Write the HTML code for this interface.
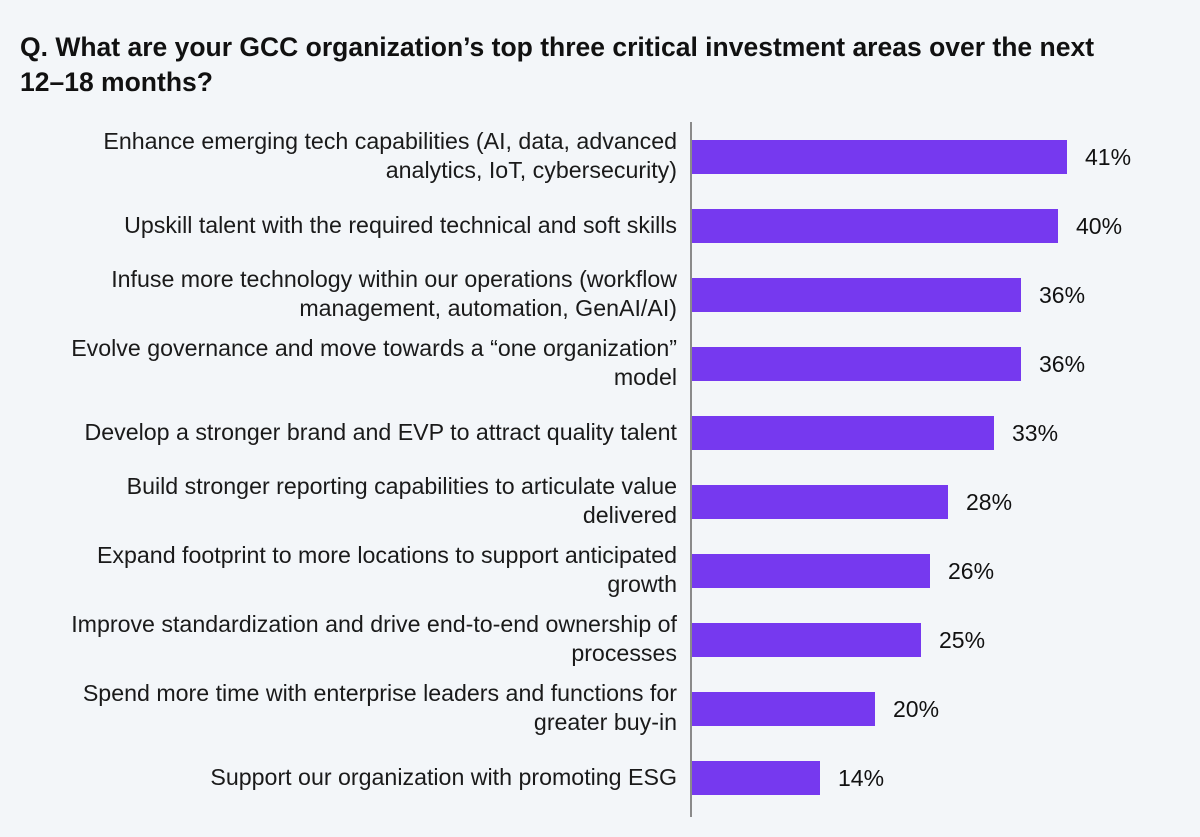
<!DOCTYPE html>
<html><head><style>
body{margin:0;width:1200px;height:837px;background:#f3f6f9;font-family:"Liberation Sans",Arial,sans-serif;position:relative;overflow:hidden;color:#111}
.t{position:absolute;left:20px;top:30px;font-size:26.5px;font-weight:bold;line-height:35px;width:1180px;white-space:nowrap}
.ax{position:absolute;left:690px;top:122px;width:2px;height:695px;background:#8a8a8a}
.b{position:absolute;left:692px;height:34px;background:#7639ef}
.v{position:absolute;font-size:23px;line-height:36px}
.l{position:absolute;right:523px;width:680px;text-align:right;font-size:23.2px;line-height:29px;color:#1a1a1a;white-space:nowrap}
</style></head><body>
<div class="t">Q. What are your GCC organization’s top three critical investment areas over the next<br>12–18 months?</div>
<div class="ax"></div>

<div class="l" style="top:127px">Enhance emerging tech capabilities (AI, data, advanced<br>analytics, IoT, cybersecurity)</div>
<div class="b" style="top:140px;width:375px"></div><div class="v" style="top:139px;left:1085px">41%</div>

<div class="l" style="top:211px">Upskill talent with the required technical and soft skills</div>
<div class="b" style="top:209px;width:366px"></div><div class="v" style="top:208px;left:1076px">40%</div>

<div class="l" style="top:265px">Infuse more technology within our operations (workflow<br>management, automation, GenAI/AI)</div>
<div class="b" style="top:278px;width:329px"></div><div class="v" style="top:277px;left:1039px">36%</div>

<div class="l" style="top:334px">Evolve governance and move towards a “one organization”<br>model</div>
<div class="b" style="top:347px;width:329px"></div><div class="v" style="top:346px;left:1039px">36%</div>

<div class="l" style="top:418px">Develop a stronger brand and EVP to attract quality talent</div>
<div class="b" style="top:416px;width:302px"></div><div class="v" style="top:415px;left:1012px">33%</div>

<div class="l" style="top:472px">Build stronger reporting capabilities to articulate value<br>delivered</div>
<div class="b" style="top:485px;width:256px"></div><div class="v" style="top:484px;left:966px">28%</div>

<div class="l" style="top:541px">Expand footprint to more locations to support anticipated<br>growth</div>
<div class="b" style="top:554px;width:238px"></div><div class="v" style="top:553px;left:948px">26%</div>

<div class="l" style="top:610px">Improve standardization and drive end-to-end ownership of<br>processes</div>
<div class="b" style="top:623px;width:229px"></div><div class="v" style="top:622px;left:939px">25%</div>

<div class="l" style="top:679px">Spend more time with enterprise leaders and functions for<br>greater buy-in</div>
<div class="b" style="top:692px;width:183px"></div><div class="v" style="top:691px;left:893px">20%</div>

<div class="l" style="top:763px">Support our organization with promoting ESG</div>
<div class="b" style="top:761px;width:128px"></div><div class="v" style="top:760px;left:838px">14%</div>
</body></html>
